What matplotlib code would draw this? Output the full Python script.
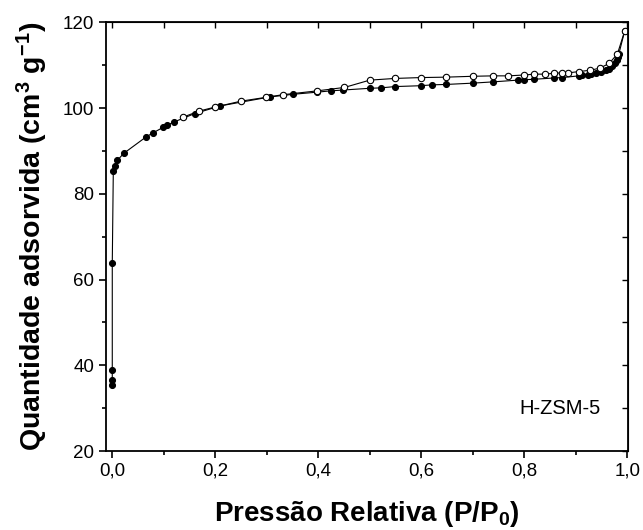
import numpy as np
import matplotlib
matplotlib.use("Agg")
import matplotlib.pyplot as plt
from matplotlib import rcParams
from matplotlib.ticker import MultipleLocator, FuncFormatter

rcParams["font.family"] = "Liberation Sans"
rcParams["mathtext.fontset"] = "custom"
rcParams["mathtext.rm"] = "Liberation Sans:bold"
rcParams["mathtext.default"] = "regular"

# adsorption branch (filled)
p_ads = [0.0, 0.0, 0.0, 0.0, 0.002, 0.0045, 0.010, 0.022, 0.065, 0.079, 0.099,
         0.107, 0.119, 0.160, 0.210, 0.307, 0.351, 0.398, 0.424, 0.449, 0.500,
         0.522, 0.549, 0.599, 0.621, 0.649, 0.700, 0.740, 0.787, 0.800, 0.819,
         0.857, 0.874, 0.906, 0.913, 0.923, 0.930, 0.940, 0.950, 0.959, 0.965,
         0.971, 0.976, 0.980, 0.982, 0.984, 0.995]
v_ads = [35.3, 36.5, 38.8, 63.8, 85.3, 86.4, 87.8, 89.4, 93.2, 94.2, 95.5,
         96.0, 96.7, 98.7, 100.5, 102.6, 103.2, 103.7, 104.0, 104.2, 104.6,
         104.7, 105.0, 105.2, 105.4, 105.5, 105.8, 106.1, 106.5, 106.6, 106.7,
         107.0, 107.1, 107.5, 107.6, 107.7, 107.9, 108.1, 108.4, 108.8, 109.2,
         109.7, 110.4, 111.1, 111.9, 112.7, 117.9]

# desorption branch (open)
p_des = [0.995, 0.981, 0.965, 0.947, 0.928, 0.906, 0.886, 0.874, 0.857, 0.840,
         0.819, 0.800, 0.769, 0.740, 0.700, 0.649, 0.599, 0.549, 0.500, 0.451,
         0.398, 0.331, 0.299, 0.250, 0.199, 0.169, 0.138]
v_des = [117.9, 112.6, 110.4, 109.3, 108.8, 108.5, 108.2, 108.2, 108.1, 107.9,
         107.9, 107.7, 107.5, 107.5, 107.4, 107.2, 107.1, 106.9, 106.5, 104.8,
         104.0, 103.1, 102.5, 101.6, 100.2, 99.3, 97.9]

fig = plt.figure(figsize=(6.43, 5.30), dpi=100)
ax = fig.add_axes([0.165, 0.149, 0.812, 0.809])

ax.plot(p_ads, v_ads, c="k", lw=0.8, marker="o", ms=4.3, mfc="k", mec="k", mew=0.8)
ax.plot(p_des, v_des, c="k", lw=0.8, marker="o", ms=4.6, mfc="w", mec="k", mew=0.8)

ax.set_xlim(-0.012, 1.002)
ax.set_ylim(20, 120)
ax.xaxis.set_major_locator(MultipleLocator(0.2))
ax.xaxis.set_minor_locator(MultipleLocator(0.1))
ax.yaxis.set_major_locator(MultipleLocator(20))
ax.yaxis.set_minor_locator(MultipleLocator(10))
ax.xaxis.set_major_formatter(FuncFormatter(lambda v, pos: f"{v:.1f}".replace(".", ",")))

ax.tick_params(which="both", direction="out", labelsize=13.5, width=1.2)
ax.tick_params(which="major", length=5)
ax.tick_params(which="minor", length=3)
for s in ax.spines.values():
    s.set_linewidth(1.3)

# inward ticks on top and right
axt = ax.secondary_xaxis("top")
axt.xaxis.set_major_locator(MultipleLocator(0.1))
axt.tick_params(direction="in", length=4, width=1.0, labeltop=False)
axr = ax.secondary_yaxis("right")
axr.yaxis.set_major_locator(MultipleLocator(10))
axr.tick_params(direction="in", length=4, width=1.0, labelright=False)

ax.set_xlabel("Pressão Relativa (P/P$_0$)", fontsize=20, fontweight="bold", labelpad=14)
ax.set_ylabel("Quantidade adsorvida (cm$^3$ g$^{-1}$)", fontsize=20.5, fontweight="bold", labelpad=9)
ax.text(0.87, 0.10, "H-ZSM-5", transform=ax.transAxes, fontsize=14.5, ha="center", va="center")

plt.savefig("out.png", dpi=100)
